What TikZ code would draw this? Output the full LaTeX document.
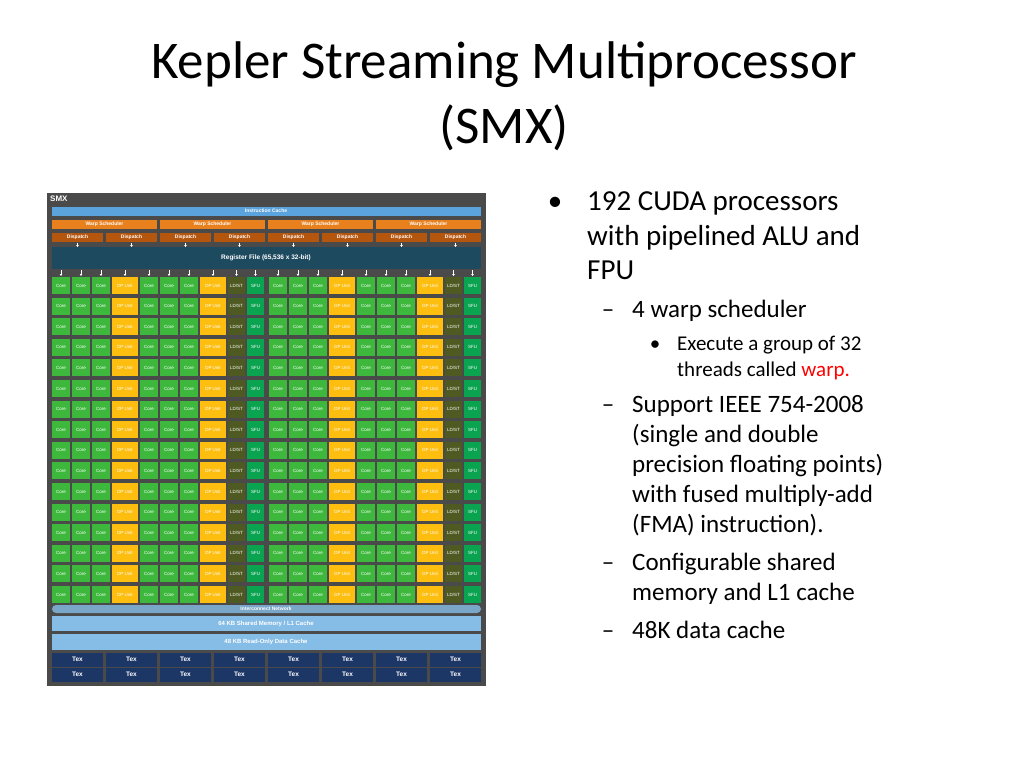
\documentclass[tikz,border=0pt]{standalone}
\usepackage{fontspec}
\setmainfont{Carlito}
\newfontfamily\arl{Liberation Sans}
\usetikzlibrary{arrows.meta}
\definecolor{bgg}{HTML}{4A4A4A}
\definecolor{icache}{HTML}{5BA3DC}
\definecolor{warp}{HTML}{E8801E}
\definecolor{disp}{HTML}{B5560F}
\definecolor{regf}{HTML}{1D4A5E}
\definecolor{corec}{HTML}{3DB83D}
\definecolor{dpc}{HTML}{FDBE10}
\definecolor{ldc}{HTML}{4F5A22}
\definecolor{sfuc}{HTML}{0AA350}
\definecolor{shm}{HTML}{86BDE6}
\definecolor{texc}{HTML}{1C3766}
\definecolor{wred}{HTML}{FF0000}
\tikzset{x=1pt,y=-1pt,
 blk/.style={inner sep=0pt,anchor=north west,font=\arl\bfseries\fontsize{5}{5}\selectfont,text=white},
 la/.style={anchor=base west,inner sep=0pt,text=black,font=\fontsize{29}{29}\selectfont},
 lb/.style={anchor=base west,inner sep=0pt,text=black,font=\fontsize{25}{25}\selectfont},
 lc/.style={anchor=base west,inner sep=0pt,text=black,font=\fontsize{21}{21}\selectfont}}
\begin{document}
\begin{tikzpicture}
\useasboundingbox (0,0) rectangle (1024,768);
\node[anchor=base,font=\fontsize{53}{60}\selectfont] (t1) at (504,78) {Kepler Streaming Multiprocessor};
\node[anchor=base,font=\fontsize{53}{60}\selectfont] (t2) at (504,143) {(SMX)};
% frame
\fill[bgg] (47,193) rectangle (486,686);
\node[blk,font=\arl\bfseries\fontsize{8}{8}\selectfont] (smx) at (50,196) {SMX};
\fill[icache] (52,207) rectangle (481,216);
\node[blk] (ic) at (266,208.5) [anchor=north] {Instruction Cache};
\foreach \i in {0,...,3}{
 \fill[warp] ({52+\i*108},220) rectangle ({52+\i*108+105},229);
 \node[blk,anchor=center] (ws\i) at ({52+\i*108+52.5},224.5) {Warp Scheduler};
 \foreach \j in {0,1}{
  \fill[disp] ({52+\i*108+\j*54},233) rectangle ({52+\i*108+\j*54+51},242);
  \node[blk,anchor=center] (dp\i\j) at ({52+\i*108+\j*54+25.5},237.5) {Dispatch};
  \draw[white,line width=1pt,-{Latex[length=2pt,width=3pt]}] ({52+\i*108+\j*54+25.5},242.5) -- ++(0,4.5);
 }}
\fill[regf] (52,247) rectangle (481,269);
\node[blk,anchor=center,font=\arl\bfseries\fontsize{6.5}{6.5}\selectfont] (rf) at (266,258) {Register File (65,536 x 32-bit)};
% cells
\foreach \h in {52,269}{
 \foreach \o/\w/\c/\t in {0/18/corec/Core,20/18/corec/Core,40/18/corec/Core,60/26/dpc/DP Unit,88/18/corec/Core,108/18/corec/Core,128/18/corec/Core,148/26/dpc/DP Unit,176/17/ldc/{LD/ST},195/17/sfuc/SFU}{
  \draw[white,line width=1pt,-{Latex[length=2pt,width=3pt]}] ({\h+\o+\w/2},270) -- ++(0,6);
  \foreach \r in {0,...,15}{
   \fill[\c] ({\h+\o},{277+\r*20.6}) rectangle ({\h+\o+\w},{294+\r*20.6});
   \node[blk,anchor=center,font=\arl\fontsize{4.5}{4.5}\selectfont] (c\h-\o-\r) at ({\h+\o+\w/2},{285.5+\r*20.6}) {\t};
  }}}
\fill[shm!80!bgg,rounded corners=4pt] (52,605) rectangle (481,613);
\node[blk,anchor=center] (icn) at (266,609) {Interconnect Network};
\fill[shm] (52,616) rectangle (481,631);
\node[blk,anchor=center,font=\arl\bfseries\fontsize{6}{6}\selectfont] (sm) at (266,623.5) {64 KB Shared Memory / L1 Cache};
\fill[shm] (52,634) rectangle (481,650);
\node[blk,anchor=center,font=\arl\bfseries\fontsize{6}{6}\selectfont] (ro) at (266,642) {48 KB Read-Only Data Cache};
\foreach \i in {0,...,7}{
 \foreach \k/\y in {0/653,1/668}{
  \fill[texc] ({52+\i*54},\y) rectangle ({52+\i*54+51},{\y+13.5});
  \node[blk,anchor=center,font=\arl\bfseries\fontsize{6.5}{6.5}\selectfont] (tx\i\k) at ({52+\i*54+25.5},{\y+6.75}) {Tex};
 }}
% bullets
\node[la,anchor=base] (b1) at (555,210) {•};
\node[la] (a1) at (587,210) {192 CUDA processors};
\node[la] (a2) at (587,245) {with pipelined ALU and};
\node[la] (a3) at (587,279) {FPU};
\node[lb,anchor=base] (b2) at (608,317) {–};
\node[lb] (c1) at (632,317) {4 warp scheduler};
\node[lc,anchor=base] (b3) at (655,350) {•};
\node[lc] (d1) at (677,350) {Execute a group of 32};
\node[lc] (d2) at (677,376) {threads called \textcolor{wred}{warp.}};
\node[lb,anchor=base] (b4) at (608,412) {–};
\node[lb] (e1) at (632,412) {Support IEEE 754-2008};
\node[lb] (e2) at (632,442) {(single and double};
\node[lb] (e3) at (632,472) {precision floating points)};
\node[lb] (e4) at (632,502) {with fused multiply-add};
\node[lb] (e5) at (632,532) {(FMA) instruction).};
\node[lb,anchor=base] (b5) at (608,570) {–};
\node[lb] (f1) at (632,570) {Configurable shared};
\node[lb] (f2) at (632,600) {memory and L1 cache};
\node[lb,anchor=base] (b6) at (608,638) {–};
\node[lb] (g1) at (632,638) {48K data cache};
\end{tikzpicture}
\end{document}
